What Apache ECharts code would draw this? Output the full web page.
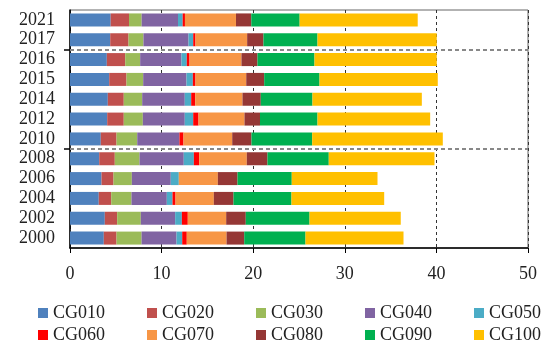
<!DOCTYPE html>
<html><head><meta charset="utf-8">
<script src="https://cdn.jsdelivr.net/npm/echarts@6/dist/echarts.min.js"></script>
<style>html,body{margin:0;padding:0;background:#fff}#c{width:549px;height:341px}</style>
</head><body><div id="c"></div>
<script>
var years = ['2000','2002','2004','2006','2008','2010','2012','2014','2015','2016','2017','2021'];
var seriesNames = ['CG010','CG020','CG030','CG040','CG050','CG060','CG070','CG080','CG090','CG100'];
var colors = ['#4F81BD','#C0504D','#9BBB59','#8064A2','#4BACC6','#FF0000','#F79646','#953735','#00B050','#FFC000'];
var CG010 = [3.69,3.80,3.14,3.44,3.19,3.36,4.06,4.13,4.28,4.02,4.39,4.44];
var CG020 = [1.39,1.35,1.36,1.31,1.70,1.72,1.81,1.74,1.89,2.01,2.00,2.00];
var CG030 = [2.73,2.58,2.21,2.00,2.70,2.26,2.08,2.01,1.82,1.63,1.63,1.38];
var CG040 = [3.82,3.75,3.86,4.25,4.83,4.61,4.58,4.65,4.73,4.51,4.92,3.97];
var CG050 = [0.62,0.73,0.62,0.88,1.10,0,0.92,0.70,0.69,0.58,0.51,0.51];
var CG060 = [0.50,0.65,0.33,0,0.58,0.44,0.58,0.44,0.29,0.30,0.25,0.25];
var CG070 = [4.34,4.19,4.18,4.26,5.20,5.32,5.02,5.16,5.54,5.67,5.64,5.57];
var CG080 = [1.93,2.14,2.15,2.15,2.26,2.10,1.69,2.00,1.96,1.75,1.78,1.67];
var CG090 = [6.69,6.96,6.33,5.92,6.69,6.63,6.28,5.64,6.04,6.22,5.90,5.28];
var CG100 = [10.70,9.96,10.12,9.36,11.54,14.26,12.30,11.94,12.91,13.35,13.02,12.89];
var xTicks = [0,10,20,30,40,50];
var separators = [5,10]; // boundaries between year groups (in category units from bottom)
var values = [CG010,CG020,CG030,CG040,CG050,CG060,CG070,CG080,CG090,CG100];

var font = 'Liberation Serif';
var series = seriesNames.map(function(n,i){
  return {name:n,type:'bar',stack:'s',data:values[i],barWidth:13,
    itemStyle:{color:colors[i]},emphasis:{disabled:true}};
});
series.push({type:'line',yAxisIndex:1,data:[],silent:true,
  markLine:{symbol:'none',silent:true,label:{show:false},
    lineStyle:{color:'#888',type:[4,3],width:2},
    data:separators.map(function(v){return {yAxis:v};})}});

var legendStyle = {fontFamily:font,fontSize:18,color:'#222'};
var chart = echarts.init(document.getElementById('c'));
chart.setOption({
  animation:false,
  color:colors,
  grid:{left:70,right:21,top:10,bottom:93,show:true,borderColor:'#666',borderWidth:1},
  legend:[
    {data:seriesNames.slice(0,5),left:33,top:299,itemWidth:10,itemHeight:10,itemGap:42,icon:'rect',textStyle:legendStyle},
    {data:seriesNames.slice(5),left:33,top:321,itemWidth:10,itemHeight:10,itemGap:42,icon:'rect',textStyle:legendStyle}
  ],
  xAxis:{type:'value',min:0,max:50,interval:5,
    axisLine:{show:true,lineStyle:{color:'#000',width:1.5}},
    axisTick:{show:true,length:5,lineStyle:{color:'#000'},customValues:xTicks},
    axisLabel:{fontFamily:font,fontSize:18,color:'#222',margin:17,customValues:xTicks},
    splitLine:{show:true,lineStyle:{color:'#333',type:[3,3],width:1}}
  },
  yAxis:[
    {type:'category',data:years,
      axisLine:{show:true,lineStyle:{color:'#000',width:1.5}},
      axisTick:{show:false},
      axisLabel:{fontFamily:font,fontSize:18,color:'#222',margin:15,interval:0},
      splitLine:{show:false}},
    {type:'value',min:0,max:12,position:'left',
      axisLine:{show:false},
      axisTick:{show:true,inside:false,length:6,lineStyle:{color:'#000',width:1.5},customValues:separators},
      axisLabel:{show:false},splitLine:{show:false}}
  ],
  series:series
});
</script></body></html>
